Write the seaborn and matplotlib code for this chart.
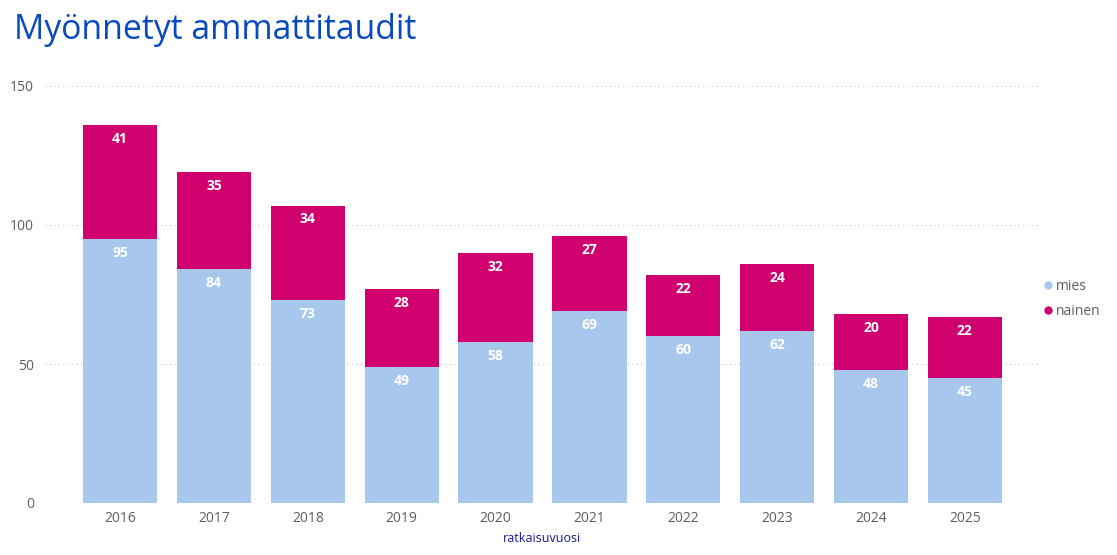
import matplotlib
matplotlib.use("Agg")
import matplotlib.pyplot as plt
import seaborn as sns
import pandas as pd
import numpy as np
from matplotlib.lines import Line2D

years = ["2016", "2017", "2018", "2019", "2020", "2021", "2022", "2023", "2024", "2025"]
mies = [95, 84, 73, 49, 58, 69, 60, 62, 48, 45]
nainen = [41, 35, 34, 28, 32, 27, 22, 24, 20, 22]

col_mies = "#A7C7ED"
col_nainen = "#D0006F"

sns.set_theme(style="white")
plt.rcParams['font.family'] = ['Open Sans', 'DejaVu Sans']

fig = plt.figure(figsize=(11.17, 5.55), dpi=100)
ax = fig.add_axes([45/1117, 52/555, (1040-45)/1117, (503-86)/555])

df = pd.DataFrame({"year": years, "mies": mies, "nainen": nainen})
df["total"] = df["mies"] + df["nainen"]

sns.barplot(data=df, x="year", y="total", color=col_nainen, width=0.79, ax=ax,
            saturation=1, edgecolor="none")
sns.barplot(data=df, x="year", y="mies", color=col_mies, width=0.79, ax=ax,
            saturation=1, edgecolor="none")

for i, (m, n) in enumerate(zip(mies, nainen)):
    ax.text(i, m - 2.5, str(m), ha="center", va="top", color="white",
            fontsize=10, fontweight="bold")
    ax.text(i, m + n - 2.5, str(n), ha="center", va="top", color="white",
            fontsize=10, fontweight="bold")

ax.set_xlim(-0.8, 9.8)
ax.set_ylim(0, 150)
ax.set_yticks([0, 50, 100, 150])
ax.yaxis.grid(True, linestyle=(0, (1, 3)), color="#C8C8C8", linewidth=0.8)
ax.set_axisbelow(True)
for s in ax.spines.values():
    s.set_visible(False)
ax.tick_params(axis="both", length=0, labelsize=10, labelcolor="#605E5C")
ax.tick_params(axis="y", pad=8)
ax.tick_params(axis="x", pad=6)
ax.set_ylabel("")
ax.set_xlabel("ratkaisuvuosi", color="#1A1A8C", fontsize=9, labelpad=4)

handles = [Line2D([], [], marker="o", linestyle="none", markersize=6,
                  markerfacecolor=col_mies, markeredgecolor="none", label="mies"),
           Line2D([], [], marker="o", linestyle="none", markersize=6,
                  markerfacecolor=col_nainen, markeredgecolor="none", label="nainen")]
fig.legend(handles=handles, loc="center left", bbox_to_anchor=(1029/1117, 1 - 299/555),
           frameon=False, fontsize=10, labelcolor="#605E5C", handletextpad=0.05,
           handlelength=1.0, labelspacing=0.75)

fig.text(14/1117, 1 - 30/555, "Myönnetyt ammattitaudit", color="#0A4ABF",
         fontsize=24.3, va="center", ha="left")

fig.savefig("out.png", dpi=100)
